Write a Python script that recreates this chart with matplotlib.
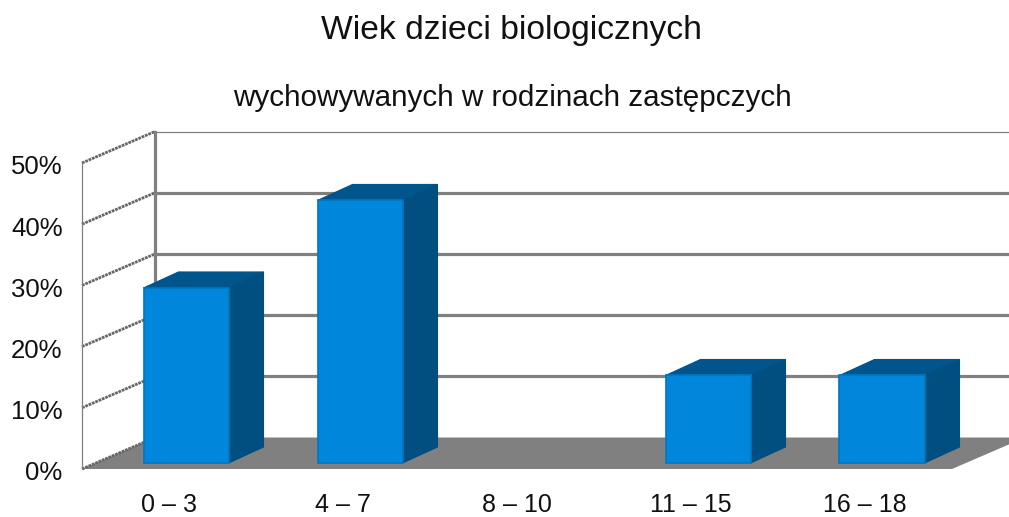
import numpy as np
import matplotlib
matplotlib.use("Agg")
import matplotlib.pyplot as plt
from matplotlib.patches import Polygon
from matplotlib.transforms import ScaledTranslation

plt.rcParams['font.family'] = ['Liberation Sans', 'DejaVu Sans']

categories = ["0 – 3", "4 – 7", "8 – 10", "11 – 15", "16 – 18"]
values = [28.6, 42.9, 0, 14.3, 14.3]
y_ticks = [0, 10, 20, 30, 40, 50]
y_labels = ["0%", "10%", "20%", "30%", "40%", "50%"]

W, H = 1009, 517
fig = plt.figure(figsize=(W/100, H/100), dpi=100)
ax = fig.add_axes([82/W, 1-469/H, 870/W, 306/H])
ax.set_xlim(0, 5)
ax.set_ylim(0, 50)
for s in ax.spines.values():
    s.set_visible(False)

# px per data unit, to turn the fake 3d offsets into data units
ux = 174.0
uy = 6.12
back_dx, back_dy = 73/ux, 31.5/uy
bar_dx, bar_dy = 17/ux, 6/uy
deep_dx, deep_dy = 35/ux, 16/uy
bar_w = 85/ux

grey = "#808080"

# floor
ax.add_patch(Polygon([(0, 0), (back_dx, back_dy), (5+back_dx, back_dy), (5, 0)],
                     closed=True, fc=grey, ec="none", clip_on=False, zorder=1))

# walls
for t in y_ticks:
    lw = 0.9 if t == 50 else 2.3
    if t > 0:
        ax.plot([back_dx, 5+back_dx], [t+back_dy, t+back_dy], color=grey, lw=lw, clip_on=False, zorder=1)
    ax.plot([0, back_dx], [t, t+back_dy], color="#666666", lw=2, ls=(0, (1.0, 0.3)), clip_on=False, zorder=1)
ax.plot([back_dx, back_dx], [back_dy, 50+back_dy], color=grey, lw=2.3, clip_on=False, zorder=1)
ax.plot([0, 0], [0, 50], color=grey, lw=0.9, clip_on=False, zorder=1)

# bars
x = np.arange(len(categories)) + 0.5
for xi, v in zip(x, values):
    if v == 0:
        continue
    x0 = xi + bar_dx - bar_w/2
    x1 = xi + bar_dx + bar_w/2
    y0 = bar_dy
    y1 = bar_dy + v
    ax.add_patch(Polygon([(x0, y1), (x0+deep_dx, y1+deep_dy), (x1+deep_dx, y1+deep_dy), (x1, y1)],
                         closed=True, fc="#00558c", ec="#00558c", lw=0.8, clip_on=False, zorder=3))
    ax.add_patch(Polygon([(x1, y0), (x1+deep_dx, y0+deep_dy), (x1+deep_dx, y1+deep_dy), (x1, y1)],
                         closed=True, fc="#004f80", ec="#004f80", lw=0.8, clip_on=False, zorder=3))
    ax.bar(xi+bar_dx, v, width=bar_w, bottom=bar_dy, color="#0086da", edgecolor="#0076c2",
           linewidth=1.2, clip_on=False, zorder=4)

ax.set_xticks(x)
ax.set_xticklabels(categories, fontsize=18, color="#111111")
ax.set_yticks(y_ticks)
ax.set_yticklabels(y_labels, fontsize=18.5, color="#111111")
ax.tick_params(axis="x", length=0, pad=17)
ax.tick_params(axis="y", length=0, pad=14)
for lab in ax.get_yticklabels():
    lab.set_transform(lab.get_transform() + ScaledTranslation(0, -2/100, fig.dpi_scale_trans))

fig.text(511/W, 1-31/H, "Wiek dzieci biologicznych", ha="center", va="center", fontsize=24.2, color="#111111")
fig.text(512/W, 1-98/H, "wychowywanych w rodzinach zastępczych", ha="center", va="center", fontsize=21.3, color="#111111")

fig.savefig("out.png", dpi=100)
